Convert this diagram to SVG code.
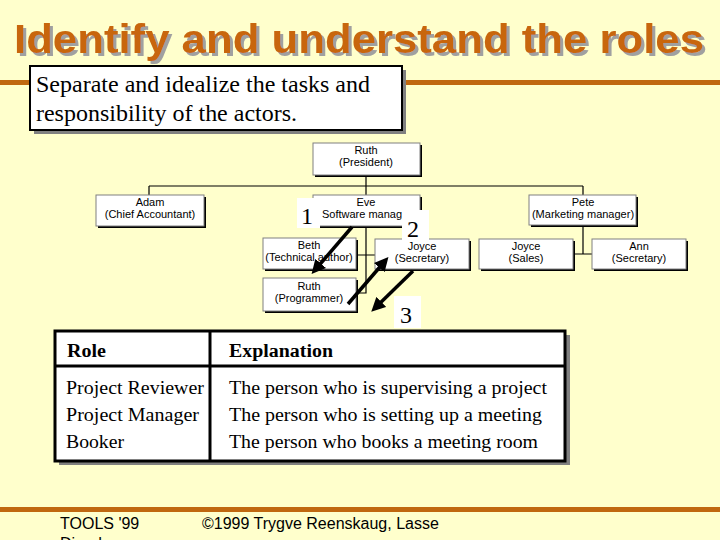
<svg xmlns="http://www.w3.org/2000/svg" width="720" height="540" viewBox="0 0 720 540">
<defs>
<style>
.title{font-family:"Liberation Sans",Arial,sans-serif;font-weight:bold;font-size:40px}
.serif{font-family:"Liberation Serif","Times New Roman",serif}
.org{font-family:"Liberation Sans",Arial,sans-serif;font-size:11px;fill:#000;text-anchor:middle}
.box{fill:#fff;stroke:#808080;stroke-width:1}
.bshadow{fill:#000}
.conn{fill:none;stroke:#000;stroke-width:1.2}
.arrow{stroke:#000;stroke-width:3.5;fill:none}
.num{font-family:"Liberation Serif","Times New Roman",serif;font-size:24px;fill:#000}
.foot{font-family:"Liberation Sans",Arial,sans-serif;font-size:16px;fill:#000}
</style>
<filter id="tshadow" x="-5%" y="-20%" width="110%" height="140%">
<feOffset in="SourceAlpha" dx="3" dy="3" result="o"/>
<feFlood flood-color="#A0A0A0"/>
<feComposite in2="o" operator="in" result="s"/>
<feMerge><feMergeNode in="s"/><feMergeNode in="SourceGraphic"/></feMerge>
</filter>
<marker id="ah" markerWidth="4" markerHeight="4" refX="2.5" refY="2" orient="auto" markerUnits="strokeWidth">
<path d="M0,0 L4,2 L0,4 Z" fill="#000"/>
</marker>
</defs>
<rect x="0" y="0" width="720" height="540" fill="#FFFFCC"/>
<g id="title">
<text class="title" x="14" y="53" fill="#C8660A" filter="url(#tshadow)" textLength="690" lengthAdjust="spacingAndGlyphs">Identify and understand the roles</text>
</g>
<rect x="0" y="80" width="720" height="5" fill="#C0680F"/>
<g id="intro">
<rect x="34" y="70" width="372" height="64" fill="#808080"/>
<rect x="30" y="66" width="372" height="64" fill="#fff" stroke="#000" stroke-width="2"/>
<text class="serif" x="36" y="92" font-size="23" textLength="334" lengthAdjust="spacingAndGlyphs">Separate and idealize the tasks and</text>
<text class="serif" x="36" y="121" font-size="23" textLength="261" lengthAdjust="spacingAndGlyphs">responsibility of the actors.</text>
</g>
<g id="connectors">
<path class="conn" d="M366,175 V228 M149,186 H583 M149,186 V195 M583,186 V195 M366,228 V293 H356 M356,255 H375 M583,226 V254 M574,254 H592"/>
</g>
<g id="ruth-president">
<rect class="bshadow" x="315" y="145" width="107" height="32"/>
<rect class="box" x="313" y="143" width="107" height="32"/>
<text class="org" x="366" y="154">Ruth</text><text class="org" x="366" y="166">(President)</text>
</g>
<g id="adam">
<rect class="bshadow" x="98" y="197" width="108" height="31"/>
<rect class="box" x="96" y="195" width="108" height="31"/>
<text class="org" x="150" y="206">Adam</text><text class="org" x="150" y="218">(Chief Accountant)</text>
</g>
<g id="eve">
<rect class="bshadow" x="315" y="197" width="107" height="31"/>
<rect class="box" x="313" y="195" width="107" height="31"/>
<text class="org" x="366" y="206">Eve</text><text class="org" x="362" y="218">Software manag</text>
</g>
<g id="pete">
<rect class="bshadow" x="531" y="197" width="107" height="30"/>
<rect class="box" x="529" y="195" width="107" height="30"/>
<text class="org" x="583" y="206">Pete</text><text class="org" x="583" y="218">(Marketing manager)</text>
</g>
<g id="beth">
<rect class="bshadow" x="265" y="240" width="93" height="31"/>
<rect class="box" x="263" y="238" width="93" height="31"/>
<text class="org" x="309" y="249">Beth</text><text class="org" x="309" y="261">(Technical author)</text>
</g>
<g id="joyce-secretary">
<rect class="bshadow" x="377" y="241" width="94" height="30"/>
<rect class="box" x="375" y="239" width="94" height="30"/>
<text class="org" x="422" y="250">Joyce</text><text class="org" x="422" y="262">(Secretary)</text>
</g>
<g id="joyce-sales">
<rect class="bshadow" x="481" y="241" width="94" height="30"/>
<rect class="box" x="479" y="239" width="94" height="30"/>
<text class="org" x="526" y="250">Joyce</text><text class="org" x="526" y="262">(Sales)</text>
</g>
<g id="ann">
<rect class="bshadow" x="594" y="241" width="94" height="30"/>
<rect class="box" x="592" y="239" width="94" height="30"/>
<text class="org" x="639" y="250">Ann</text><text class="org" x="639" y="262">(Secretary)</text>
</g>
<g id="ruth-programmer">
<rect class="bshadow" x="265" y="280" width="93" height="33"/>
<rect class="box" x="263" y="278" width="93" height="33"/>
<text class="org" x="309" y="290">Ruth</text><text class="org" x="309" y="302">(Programmer)</text>
</g>
<g id="label-1">
<rect x="297" y="198" width="23" height="30" fill="#fff"/>
<text class="num" x="301" y="224">1</text>
</g>
<g id="label-2">
<rect x="402" y="210" width="27" height="32" fill="#fff"/>
<text class="num" x="407" y="237">2</text>
</g>
<g id="label-3">
<rect x="394" y="296" width="27" height="32" fill="#fff"/>
<text class="num" x="400" y="323">3</text>
</g>
<g id="arrows">
<line class="arrow" x1="352" y1="227" x2="315" y2="270" marker-end="url(#ah)"/>
<line class="arrow" x1="348" y1="304" x2="385" y2="261" marker-end="url(#ah)"/>
<line class="arrow" x1="413" y1="271" x2="375" y2="308" marker-end="url(#ah)"/>
</g>
<g id="table">
<rect x="59" y="335" width="511" height="130" fill="#808080"/>
<rect x="55" y="331" width="510" height="130" fill="#fff" stroke="#000" stroke-width="3"/>
<line x1="55" y1="366" x2="565" y2="366" stroke="#000" stroke-width="3"/>
<line x1="210" y1="331" x2="210" y2="461" stroke="#000" stroke-width="3"/>
<text class="serif" x="67" y="357" font-size="18" font-weight="bold" textLength="39" lengthAdjust="spacingAndGlyphs">Role</text>
<text class="serif" x="229" y="357" font-size="18" font-weight="bold" textLength="104" lengthAdjust="spacingAndGlyphs">Explanation</text>
<text class="serif" x="66" y="394" font-size="19" textLength="138" lengthAdjust="spacingAndGlyphs">Project Reviewer</text>
<text class="serif" x="66" y="421" font-size="19" textLength="133" lengthAdjust="spacingAndGlyphs">Project Manager</text>
<text class="serif" x="66" y="448" font-size="19" textLength="58" lengthAdjust="spacingAndGlyphs">Booker</text>
<text class="serif" x="229" y="394" font-size="19" textLength="318" lengthAdjust="spacingAndGlyphs">The person who is supervising a project</text>
<text class="serif" x="229" y="421" font-size="19" textLength="313" lengthAdjust="spacingAndGlyphs">The person who is setting up a meeting</text>
<text class="serif" x="229" y="448" font-size="19" textLength="309" lengthAdjust="spacingAndGlyphs">The person who books a meeting room</text>
</g>
<rect x="0" y="507" width="720" height="5" fill="#C0680F"/>
<g id="footer">
<text class="foot" x="60" y="529">TOOLS '99</text>
<text class="foot" x="60" y="549">Dianda</text>
<text class="foot" x="202" y="529">©1999 Trygve Reenskaug, Lasse</text>
</g>
</svg>
